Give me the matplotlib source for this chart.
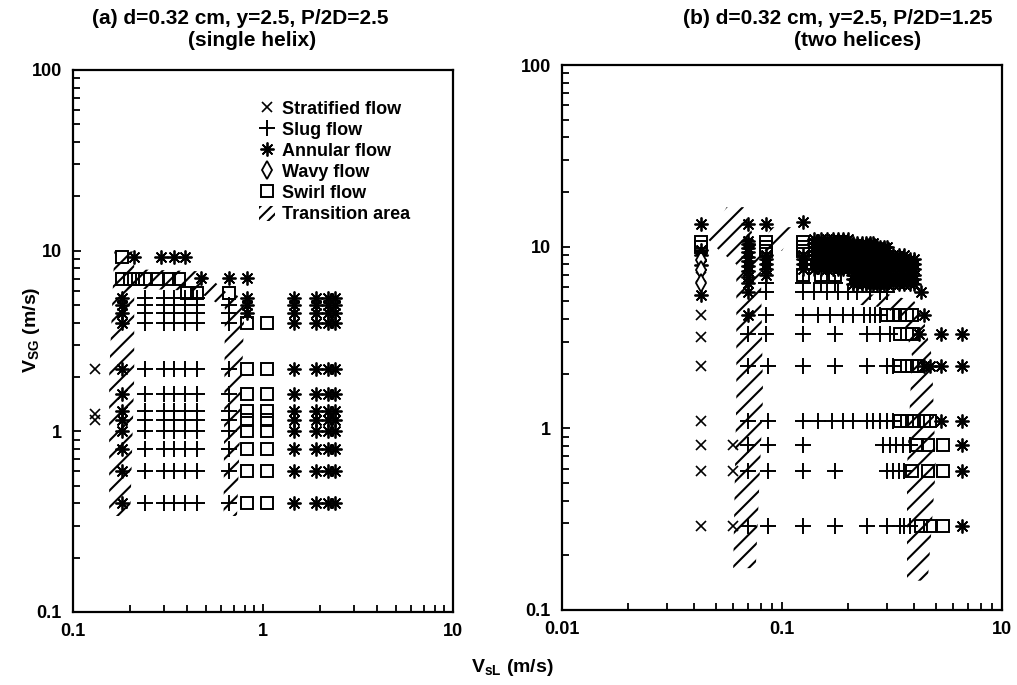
import matplotlib
matplotlib.use("Agg")
import matplotlib.pyplot as plt
from matplotlib.lines import Line2D
from matplotlib.patches import Polygon, Patch
from matplotlib.ticker import FixedLocator, FixedFormatter, LogLocator, NullFormatter

plt.rcParams["font.family"] = ["Liberation Sans", "DejaVu Sans"]
plt.rcParams["font.weight"] = "bold"
plt.rcParams["mathtext.fontset"] = "custom"
plt.rcParams["mathtext.rm"] = "Liberation Sans:bold"
plt.rcParams["mathtext.default"] = "rm"
plt.rcParams["hatch.linewidth"] = 1.5
plt.rcParams["hatch.color"] = "black"

# ---------------------------------------------------------------------------
# Data: each entry is (V_SG, [V_sL values observed at that gas velocity])
# ---------------------------------------------------------------------------

# (a) single helix, P/2D = 2.5
a_stratified = [(2.2, [0.13]), (1.25, [0.13]), (1.15, [0.13])]

a_slug = [
    (5.5, [0.24, 0.30, 0.34, 0.39, 0.45]),
    (5.0, [0.24, 0.30, 0.34, 0.39, 0.45, 0.66]),
    (4.5, [0.24, 0.30, 0.34, 0.39, 0.45, 0.66]),
    (4.0, [0.24, 0.30, 0.34, 0.39, 0.45, 0.66]),
    (2.2, [0.24, 0.30, 0.34, 0.39, 0.45, 0.66]),
    (1.6, [0.24, 0.30, 0.34, 0.39, 0.45, 0.66]),
    (1.3, [0.24, 0.30, 0.34, 0.39, 0.45, 0.66]),
    (1.15, [0.24, 0.30, 0.34, 0.39, 0.45, 0.66]),
    (1.0, [0.24, 0.30, 0.34, 0.39, 0.45, 0.66]),
    (0.8, [0.24, 0.30, 0.34, 0.39, 0.45, 0.66]),
    (0.6, [0.24, 0.30, 0.34, 0.39, 0.45, 0.66]),
    (0.4, [0.24, 0.30, 0.34, 0.39, 0.45, 0.66]),
]

a_annular = [
    (9.2, [0.21, 0.29, 0.34, 0.39]),
    (7.1, [0.47, 0.66, 0.82]),
    (5.5, [0.18, 0.82, 1.45, 1.9, 2.2, 2.4]),
    (5.0, [0.18, 0.82, 1.45, 1.9, 2.2, 2.4]),
    (4.5, [0.18, 0.82, 1.45, 1.9, 2.2, 2.4]),
    (4.0, [0.18, 1.45, 1.9, 2.2, 2.4]),
    (2.2, [0.18, 1.45, 1.9, 2.2, 2.4]),
    (1.6, [0.18, 1.45, 1.9, 2.2, 2.4]),
    (1.3, [0.18, 1.45, 1.9, 2.2, 2.4]),
    (1.15, [0.18, 1.45, 1.9, 2.2, 2.4]),
    (1.0, [0.18, 1.45, 1.9, 2.2, 2.4]),
    (0.8, [0.18, 1.45, 1.9, 2.2, 2.4]),
    (0.6, [0.18, 1.45, 1.9, 2.2, 2.4]),
    (0.4, [0.18, 1.45, 1.9, 2.2, 2.4]),
]

a_swirl = [
    (9.2, [0.18]),
    (7.0, [0.18, 0.20, 0.22, 0.24, 0.28, 0.32, 0.36]),
    (5.8, [0.40, 0.45, 0.66]),
    (4.0, [0.82, 1.05]),
    (2.2, [0.82, 1.05]),
    (1.6, [0.82, 1.05]),
    (1.3, [0.82, 1.05]),
    (1.15, [0.82, 1.05]),
    (1.0, [0.82, 1.05]),
    (0.8, [0.82, 1.05]),
    (0.6, [0.82, 1.05]),
    (0.4, [0.82, 1.05]),
]

# transition areas of (a), as (V_sL, V_SG) outlines
a_transition = [
    [(0.155, 0.34), (0.20, 0.34), (0.21, 2.0), (0.21, 9.9), (0.165, 9.9), (0.155, 2.0)],
    [(0.19, 6.2), (0.42, 6.0), (0.52, 5.5), (0.62, 4.8), (0.70, 5.4),
     (0.55, 6.8), (0.45, 7.7), (0.20, 7.9)],
    [(0.62, 0.34), (0.73, 0.34), (0.80, 5.0), (0.70, 6.0), (0.63, 5.0)],
]

# (b) two helices, P/2D = 1.25
b_stratified = [
    (6.8, [0.043]), (4.2, [0.043]), (3.2, [0.043]), (2.2, [0.043]),
    (1.1, [0.043]), (0.81, [0.043, 0.06]), (0.58, [0.043, 0.06]),
    (0.29, [0.043, 0.06]),
]

b_wavy = [(8.4, [0.043]), (7.4, [0.043]), (6.3, [0.043])]

b_slug = [
    (6.3, [0.085, 0.124, 0.15, 0.175]),
    (5.6, [0.085, 0.124, 0.14, 0.16, 0.18, 0.20, 0.22, 0.25, 0.28, 0.30]),
    (4.2, [0.085, 0.124, 0.146, 0.165, 0.19, 0.21, 0.235, 0.25, 0.265, 0.28]),
    (3.3, [0.07, 0.085, 0.124, 0.174, 0.243, 0.28, 0.31]),
    (2.2, [0.07, 0.086, 0.124, 0.174, 0.243, 0.30, 0.32]),
    (1.1, [0.07, 0.086, 0.124, 0.146, 0.169, 0.189, 0.21, 0.243, 0.26,
           0.28, 0.30, 0.32]),
    (0.81, [0.07, 0.086, 0.124, 0.288, 0.31, 0.33, 0.355, 0.38]),
    (0.58, [0.07, 0.086, 0.124, 0.174, 0.30, 0.32, 0.34, 0.36]),
    (0.29, [0.07, 0.086, 0.124, 0.174, 0.243, 0.30, 0.345, 0.36, 0.38]),
]

b_annular = [
    (13.6, [0.124]),
    (13.4, [0.043, 0.07, 0.085]),
    (10.8, [0.07]), (10.3, [0.07]), (9.8, [0.07]),
    (9.6, [0.043]), (9.3, [0.07]),
    (9.0, [0.043, 0.085, 0.124]), (8.8, [0.07]),
    (8.5, [0.085, 0.124]), (8.3, [0.07]),
    (8.0, [0.085, 0.124]), (7.9, [0.043]), (7.8, [0.07]),
    (7.5, [0.085, 0.124]), (7.3, [0.07]), (7.0, [0.085]),
    (6.8, [0.07]), (6.3, [0.07]),
    (5.6, [0.07, 0.43]), (5.4, [0.043]),
    (4.2, [0.07, 0.44]),
    (3.3, [0.42, 0.53, 0.66]),
    (2.2, [0.44, 0.47, 0.53, 0.66]),
    (1.1, [0.53, 0.66]),
    (0.81, [0.66]), (0.58, [0.66]), (0.29, [0.66]),
]

# densely measured annular block between the two transition zones
b_block_cols = [0.14, 0.15, 0.16, 0.17, 0.18, 0.19, 0.20, 0.21, 0.22, 0.23,
                0.24, 0.25, 0.26, 0.27, 0.28, 0.29, 0.30, 0.32, 0.34, 0.36,
                0.38, 0.40]
# (V_SG, lowest V_sL, highest V_sL) of each measured row in the block
b_block_rows = [
    (11.0, 0.14, 0.20), (10.5, 0.14, 0.26), (10.0, 0.14, 0.30),
    (9.5, 0.14, 0.30), (9.0, 0.14, 0.36), (8.5, 0.14, 0.40),
    (8.0, 0.14, 0.40), (7.5, 0.14, 0.40), (7.0, 0.21, 0.40),
    (6.6, 0.21, 0.40), (6.2, 0.21, 0.40),
]

b_swirl = [
    (10.6, [0.043, 0.085, 0.124]), (10.0, [0.043, 0.085, 0.124]),
    (9.5, [0.085, 0.124]), (7.0, [0.124, 0.15, 0.175]),
    (4.2, [0.30, 0.32, 0.345, 0.37, 0.39]),
    (3.3, [0.345, 0.37, 0.39]),
    (2.2, [0.345, 0.37, 0.39, 0.41]),
    (1.1, [0.345, 0.37, 0.40, 0.44, 0.47]),
    (0.81, [0.41, 0.46, 0.54]),
    (0.58, [0.39, 0.46, 0.54]),
    (0.29, [0.43, 0.47, 0.54]),
]

b_transition = [
    [(0.060, 0.17), (0.076, 0.17), (0.082, 1.5), (0.080, 8.5), (0.073, 12.0),
     (0.067, 16.5), (0.056, 16.5), (0.046, 11.0), (0.052, 9.5), (0.062, 8.0),
     (0.062, 1.5)],
    [(0.078, 9.5), (0.10, 9.5), (0.115, 12.8), (0.09, 12.8)],
    [(0.37, 0.145), (0.46, 0.145), (0.50, 0.6), (0.48, 2.5), (0.44, 4.0),
     (0.40, 5.0), (0.30, 5.5), (0.22, 5.4), (0.22, 4.8), (0.30, 4.6),
     (0.36, 3.8), (0.39, 2.5), (0.37, 0.6)],
]

legend_labels = ["Stratified flow", "Slug flow", "Annular flow",
                 "Wavy flow", "Swirl flow", "Transition area"]

# ---------------------------------------------------------------------------
W, H = 1017, 685
fig = plt.figure(figsize=(W / 100, H / 100), dpi=100)


def axes_px(x0, x1, y0, y1):
    return fig.add_axes([x0 / W, 1 - y1 / H, (x1 - x0) / W, (y1 - y0) / H])


def expand(rows):
    xs, ys = [], []
    for v, row in rows:
        xs.extend(row)
        ys.extend([v] * len(row))
    return xs, ys


STYLES = {
    "strat": dict(marker="x", ms=7.5, mew=1.2, color="black", ls="none"),
    "slug": dict(marker="+", ms=11, mew=1.4, color="black", ls="none"),
    "annular": dict(marker=(8, 2, 0), ms=10, mew=1.3, color="black", ls="none"),
    "wavy": dict(marker="d", ms=9, mew=1.3, color="black", mfc="white", ls="none"),
    "swirl": dict(marker="s", ms=8, mew=1.4, color="black", mfc="none", ls="none"),
}


def style_axes(ax, xlim, xticks, xlabels):
    ax.set_xscale("log")
    ax.set_yscale("log")
    ax.set_xlim(*xlim)
    ax.set_ylim(0.1, 100)
    ax.xaxis.set_major_locator(FixedLocator(xticks))
    ax.xaxis.set_major_formatter(FixedFormatter(xlabels))
    ax.xaxis.set_minor_locator(LogLocator(base=10, subs=range(2, 10)))
    ax.xaxis.set_minor_formatter(NullFormatter())
    ax.yaxis.set_major_locator(FixedLocator([0.1, 1, 10, 100]))
    ax.yaxis.set_major_formatter(FixedFormatter(["0.1", "1", "10", "100"]))
    ax.yaxis.set_minor_locator(LogLocator(base=10, subs=range(2, 10)))
    ax.yaxis.set_minor_formatter(NullFormatter())
    ax.tick_params(which="both", direction="in", top=False, right=False,
                   width=1.3, labelsize=13)
    ax.tick_params(which="major", length=6, pad=8)
    ax.tick_params(which="minor", length=5)
    for s in ax.spines.values():
        s.set_linewidth(1.6)


def draw_panel(ax, strat, slug, annular, wavy, swirl, transition):
    for poly in transition:
        ax.add_patch(Polygon(poly, closed=True, fill=False, hatch="//",
                             edgecolor="black", linewidth=0, zorder=1))
    for rows, key in [(strat, "strat"), (slug, "slug"), (annular, "annular"),
                      (wavy, "wavy"), (swirl, "swirl")]:
        if rows:
            xs, ys = expand(rows)
            ax.plot(xs, ys, zorder=3, **STYLES[key])


# panel (a)
ax1 = axes_px(73, 453, 70, 612)
style_axes(ax1, (0.1, 10), [0.1, 1, 10], ["0.1", "1", "10"])
draw_panel(ax1, a_stratified, a_slug, a_annular, [], a_swirl, a_transition)

handles = [
    Line2D([], [], **STYLES["strat"]),
    Line2D([], [], **STYLES["slug"]),
    Line2D([], [], **STYLES["annular"]),
    Line2D([], [], **STYLES["wavy"]),
    Line2D([], [], **STYLES["swirl"]),
    Patch(fill=False, hatch="///", edgecolor="black", linewidth=0),
]
ax1.legend(handles, legend_labels, loc="upper left",
           bbox_to_anchor=(0.49, 0.945), frameon=False, fontsize=13,
           handlelength=0.9, handleheight=0.9, handletextpad=0.35,
           labelspacing=0.19, borderpad=0, borderaxespad=0)

# panel (b)
ax2 = axes_px(562, 1002, 65, 610)
style_axes(ax2, (0.01, 1), [0.01, 0.1, 1], ["0.01", "0.1", "10"])
b_block = [(v, [c for c in b_block_cols if lo <= c <= hi])
           for v, lo, hi in b_block_rows]
draw_panel(ax2, b_stratified, b_slug, b_annular + b_block, b_wavy, b_swirl,
           b_transition)

# titles
fig.text(240 / W, 1 - 19 / H, "(a) d=0.32 cm, y=2.5, P/2D=2.5",
         ha="center", va="center", fontsize=15)
fig.text(252 / W, 1 - 41 / H, "(single helix)",
         ha="center", va="center", fontsize=15)
fig.text(838 / W, 1 - 19 / H, "(b) d=0.32 cm, y=2.5, P/2D=1.25",
         ha="center", va="center", fontsize=15)
fig.text(858 / W, 1 - 41 / H, "(two helices)",
         ha="center", va="center", fontsize=15)

# axis labels
fig.text(512 / W, 1 - 668 / H, r"V$_{\mathregular{sL}}$ (m/s)",
         ha="center", va="center", fontsize=14)
fig.text(31 / W, 1 - 330 / H, r"V$_{\mathregular{SG}}$ (m/s)",
         ha="center", va="center", fontsize=14, rotation=90)

fig.savefig("out.png", dpi=100)
